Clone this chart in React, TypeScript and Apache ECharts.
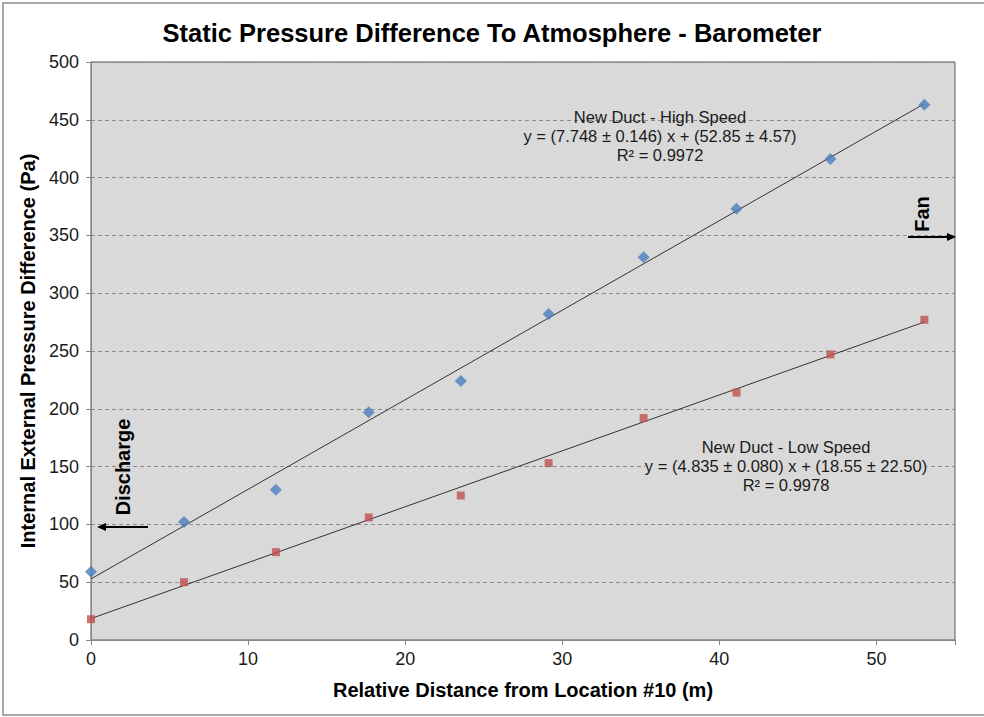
import React, { useEffect, useRef } from "react";
import * as echarts from "echarts";

const distances = [0, 5.92, 11.77, 17.68, 23.54, 29.13, 35.18, 41.09, 47.07, 53.05];
const highSpeed = [59, 102, 130, 197, 224, 282, 331, 373, 416, 463];
const lowSpeed = [18, 50, 76, 106, 125, 153, 192, 214, 247, 277];
const highTrendX = [0, 53.05];
const highTrendY = [52.85, 463.9];
const lowTrendX = [0, 53.05];
const lowTrendY = [18.55, 275.1];
const highLabel = ["New Duct - High Speed", "y = (7.748 ± 0.146) x + (52.85 ± 4.57)", "R² = 0.9972"];
const lowLabel = ["New Duct - Low Speed", "y = (4.835 ± 0.080) x + (18.55 ± 22.50)", "R² = 0.9978"];

const FONT = "'Liberation Sans', Arial, sans-serif";

export default function App() {
  const ref = useRef<HTMLDivElement>(null);
  useEffect(() => {
    if (!ref.current) return;
    const chart = echarts.init(ref.current, null, { renderer: "svg" });
    const pair = (xs: number[], ys: number[]) => xs.map((x, i) => [x, ys[i]]);
    chart.setOption({
      animation: false,
      backgroundColor: "#ffffff",
      textStyle: { fontFamily: FONT },
      title: {
        text: "Static Pressure Difference To Atmosphere - Barometer",
        left: "center",
        top: 15,
        textStyle: { fontFamily: FONT, fontSize: 25.5, fontWeight: "bold", color: "#000" },
      },
      grid: {
        left: 91,
        top: 62,
        width: 864,
        height: 578,
        show: true,
        backgroundColor: "#d9d9d9",
        borderColor: "#595959",
        borderWidth: 1,
      },
      xAxis: {
        type: "value",
        min: 0,
        max: 55,
        interval: 10,
        name: "Relative Distance from Location #10 (m)",
        nameLocation: "middle",
        nameGap: 40,
        nameTextStyle: { fontFamily: FONT, fontSize: 20, fontWeight: "bold", color: "#000" },
        axisLine: { show: true, lineStyle: { color: "#868686" } },
        axisTick: { show: true, length: 5, lineStyle: { color: "#868686" } },
        axisLabel: {
          fontFamily: FONT,
          fontSize: 18,
          color: "#1a1a1a",
          margin: 10,
          formatter: (v: number) => (v % 10 === 0 ? String(v) : ""),
        },
        splitLine: { show: false },
      },
      yAxis: {
        type: "value",
        min: 0,
        max: 500,
        interval: 50,
        name: "Internal External Pressure Difference (Pa)",
        nameLocation: "middle",
        nameGap: 49,
        nameTextStyle: { fontFamily: FONT, fontSize: 20, fontWeight: "bold", color: "#000" },
        axisLine: { show: true, lineStyle: { color: "#868686" } },
        axisTick: { show: true, length: 5, lineStyle: { color: "#868686" } },
        axisLabel: { fontFamily: FONT, fontSize: 18, color: "#1a1a1a", margin: 12 },
        splitLine: { show: true, lineStyle: { color: "#8c8c8c", type: [4, 3], width: 1 } },
      },
      series: [
        {
          type: "line",
          data: pair(highTrendX, highTrendY),
          showSymbol: false,
          symbol: "none",
          lineStyle: { color: "#333333", width: 1 },
          silent: true,
          z: 1,
        },
        {
          type: "line",
          data: pair(lowTrendX, lowTrendY),
          showSymbol: false,
          symbol: "none",
          lineStyle: { color: "#333333", width: 1 },
          silent: true,
          z: 1,
        },
        {
          type: "scatter",
          name: "High Speed",
          data: pair(distances, highSpeed),
          symbol: "diamond",
          symbolSize: 12,
          itemStyle: { color: "#4a7ebb" },
          z: 3,
        },
        {
          type: "scatter",
          name: "Low Speed",
          data: pair(distances, lowSpeed),
          symbol: "rect",
          symbolSize: 8,
          itemStyle: { color: "#c0504d" },
          z: 3,
        },
      ],
      graphic: [
        {
          type: "rect",
          shape: { x: 3, y: 3, width: 1000, height: 712 },
          style: { fill: "none", stroke: "#8c8c8c", lineWidth: 1.5 },
          silent: true,
          z: 0,
        },
        {
          type: "text",
          x: 660,
          y: 107,
          style: {
            text: highLabel.join("\n"),
            fontFamily: FONT,
            fontSize: 16.5,
            lineHeight: 19,
            fill: "#1a1a1a",
            align: "center",
            verticalAlign: "top",
          },
          z: 10,
        },
        {
          type: "text",
          x: 786,
          y: 437,
          style: {
            text: lowLabel.join("\n"),
            fontFamily: FONT,
            fontSize: 16.5,
            lineHeight: 19,
            fill: "#1a1a1a",
            align: "center",
            verticalAlign: "top",
            backgroundColor: "#d9d9d9",
          },
          z: 10,
        },
        {
          type: "text",
          x: 123,
          y: 467,
          rotation: Math.PI / 2,
          style: {
            text: "Discharge",
            fontFamily: FONT,
            fontSize: 20,
            fontWeight: "bold",
            fill: "#000",
            align: "center",
            verticalAlign: "middle",
          },
          z: 10,
        },
        {
          type: "line",
          shape: { x1: 148, y1: 527, x2: 104, y2: 527 },
          style: { stroke: "#000", lineWidth: 2 },
          z: 10,
        },
        {
          type: "polygon",
          shape: { points: [[97, 527], [106, 523], [106, 531]] },
          style: { fill: "#000" },
          z: 10,
        },
        {
          type: "text",
          x: 922,
          y: 214,
          rotation: Math.PI / 2,
          style: {
            text: "Fan",
            fontFamily: FONT,
            fontSize: 20,
            fontWeight: "bold",
            fill: "#000",
            align: "center",
            verticalAlign: "middle",
          },
          z: 10,
        },
        {
          type: "line",
          shape: { x1: 908, y1: 237, x2: 949, y2: 237 },
          style: { stroke: "#000", lineWidth: 2 },
          z: 10,
        },
        {
          type: "polygon",
          shape: { points: [[956, 237], [947, 233], [947, 241]] },
          style: { fill: "#000" },
          z: 10,
        },
      ],
    });
    return () => chart.dispose();
  }, []);
  return (
    <div
      ref={ref}
      style={{ position: "fixed", left: 0, top: 0, width: 984, height: 717 }}
    />
  );
}
